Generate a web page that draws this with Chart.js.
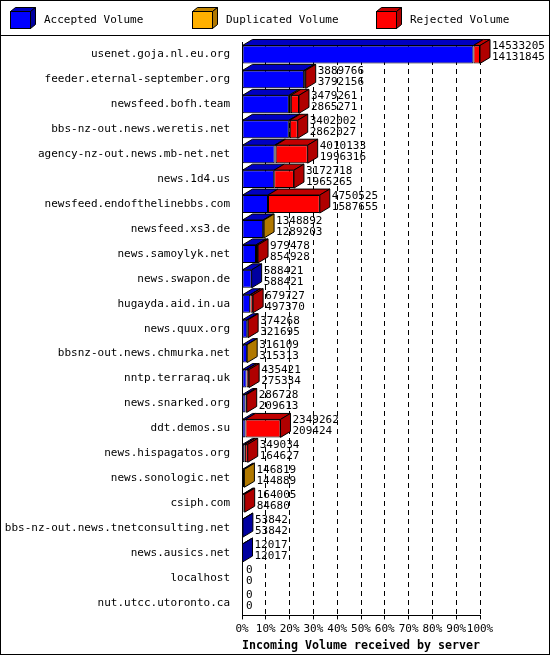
<!DOCTYPE html>
<html><head><meta charset="utf-8">
<script src="https://cdn.jsdelivr.net/npm/chart.js@4"></script>
<style>html,body{margin:0;padding:0;background:#fff}#w{width:550px;height:655px}</style>
</head><body><div id="w"><canvas id="c"></canvas></div>
<script>
const servers=["usenet.goja.nl.eu.org","feeder.eternal-september.org","newsfeed.bofh.team","bbs-nz-out.news.weretis.net","agency-nz-out.news.mb-net.net","news.1d4.us","newsfeed.endofthelinebbs.com","newsfeed.xs3.de","news.samoylyk.net","news.swapon.de","hugayda.aid.in.ua","news.quux.org","bbsnz-out.news.chmurka.net","nntp.terraraq.uk","news.snarked.org","ddt.demos.su","news.hispagatos.org","news.sonologic.net","csiph.com","news-bbs-nz-out.news.tnetconsulting.net","news.ausics.net","localhost","nut.utcc.utoronto.ca"];
const totals=[14533205,3889766,3479261,3402002,4010133,3172718,4750525,1348892,979478,588421,679727,374268,316109,435421,286728,2349262,349034,146819,164005,53842,12017,0,0];
const accepted=[14131845,3792156,2865271,2862027,1996316,1965265,1587655,1289203,854928,588421,497370,321695,315313,275334,209613,209424,164627,144889,84680,53842,12017,0,0];
const duplicated=[0,0,120000,60000,60000,0,0,59689,0,0,15000,0,796,10000,0,0,12000,1930,0,0,0,0,0];
const rejected=totals.map((t,i)=>Math.max(0,t-accepted[i]-duplicated[i]));
const tickPct=["0%","10%","20%","30%","40%","50%","60%","70%","80%","90%","100%"];
const maxT=Math.max(...totals);
const FONT="'DejaVu Sans Mono', monospace";
const frontC=["#0000ff","#ffb000","#ff0000"], topC=["#0000c0","#c08400","#c00000"], sideC=["#0000a0","#b07800","#b00000"];
const DX=10,DY=-6;
function box(ctx,x0,x1,yt,yb,i,withSide){
  ctx.strokeStyle="#000";ctx.lineWidth=1;
  ctx.fillStyle=topC[i];ctx.beginPath();ctx.moveTo(x0,yt);ctx.lineTo(x0+DX,yt+DY);ctx.lineTo(x1+DX,yt+DY);ctx.lineTo(x1,yt);ctx.closePath();ctx.fill();ctx.stroke();
  if(withSide){ctx.fillStyle=sideC[i];ctx.beginPath();ctx.moveTo(x1,yt);ctx.lineTo(x1+DX,yt+DY);ctx.lineTo(x1+DX,yb+DY);ctx.lineTo(x1,yb);ctx.closePath();ctx.fill();ctx.stroke();}
}
const deco={id:'deco',
 beforeDraw(ch){const c=ch.ctx;c.save();c.fillStyle="#fff";c.fillRect(0,0,550,655);c.restore();},
 afterDatasetsDraw(ch){const c=ch.ctx;c.save();
  const metas=[0,1,2].map(d=>ch.getDatasetMeta(d));
  for(let j=0;j<servers.length;j++){
    let last=-1;for(let d=0;d<3;d++){const v=ch.data.datasets[d].data[j];if(v>0)last=d;}
    const el0=metas[0].data[j];const yt=el0.y-el0.height/2,yb=el0.y+el0.height/2;
    let endX=ch.scales.x.getPixelForValue(0);
    for(let d=0;d<3;d++){const v=ch.data.datasets[d].data[j];if(!(v>0))continue;const el=metas[d].data[j];
      const x0=Math.min(el.x,el.base),x1=Math.max(el.x,el.base);box(c,x0,x1,yt,yb,d,d===last);endX=x1;}
    c.fillStyle="#000";c.font="11px "+FONT;c.textAlign="left";c.textBaseline="middle";
    const tx=endX+(last>=0?DX+2:4);
    c.fillText(String(totals[j]),tx,el0.y-8);c.fillText(String(accepted[j]),tx,el0.y+3);
  }
  c.restore();},
 afterDraw(ch){const c=ch.ctx;c.save();c.strokeStyle="#000";c.lineWidth=1;
  c.strokeRect(0.5,0.5,549,654);c.beginPath();c.moveTo(0,35.5);c.lineTo(550,35.5);c.stroke();
  const names=["Accepted Volume","Duplicated Volume","Rejected Volume"],xs=[10,192,376];
  c.font="11px "+FONT;c.textBaseline="middle";
  for(let i=0;i<3;i++){const x=xs[i];c.fillStyle=frontC[i];c.fillRect(x+0.5,11.5,20,17);c.strokeRect(x+0.5,11.5,20,17);
    c.fillStyle=topC[i];c.beginPath();c.moveTo(x+0.5,11.5);c.lineTo(x+5.5,7.5);c.lineTo(x+25.5,7.5);c.lineTo(x+20.5,11.5);c.closePath();c.fill();c.stroke();
    c.fillStyle=sideC[i];c.beginPath();c.moveTo(x+20.5,11.5);c.lineTo(x+25.5,7.5);c.lineTo(x+25.5,24.5);c.lineTo(x+20.5,28.5);c.closePath();c.fill();c.stroke();
    c.fillStyle="#000";c.fillText(names[i],x+34,20);}
  c.restore();}
};
new Chart(document.getElementById('c'),{type:'bar',
 data:{labels:servers,datasets:[
  {label:"Accepted Volume",data:accepted,backgroundColor:frontC[0]},
  {label:"Duplicated Volume",data:duplicated,backgroundColor:frontC[1]},
  {label:"Rejected Volume",data:rejected,backgroundColor:frontC[2]}].map(d=>Object.assign(d,{borderColor:"#000",borderWidth:1,borderSkipped:false,barPercentage:0.72,categoryPercentage:1}))},
 options:{indexAxis:'y',responsive:true,maintainAspectRatio:false,animation:false,
  layout:{padding:{top:42,right:70,left:4,bottom:0}},
  plugins:{legend:{display:false},tooltip:{enabled:false}},
  scales:{
   x:{stacked:true,min:0,max:maxT,afterBuildTicks:a=>{a.ticks=tickPct.map((t,i)=>({value:maxT*i/10}));},
     ticks:{color:"#000",font:{family:FONT,size:11},callback:(v,i)=>tickPct[i],maxRotation:0,autoSkip:false},
     grid:{color:"#000",drawTicks:true,tickLength:4},border:{display:true,color:"#000",dash:[5,4]},
     title:{display:true,text:"Incoming Volume received by server",color:"#000",font:{family:FONT,size:12,weight:'bold'},padding:{top:0,bottom:2}}},
   y:{stacked:true,ticks:{color:"#000",font:{family:FONT,size:11},autoSkip:false,padding:4},
     grid:{display:false},border:{display:true,color:"#000"}}
  }},
 plugins:[deco]});
</script></body></html>
